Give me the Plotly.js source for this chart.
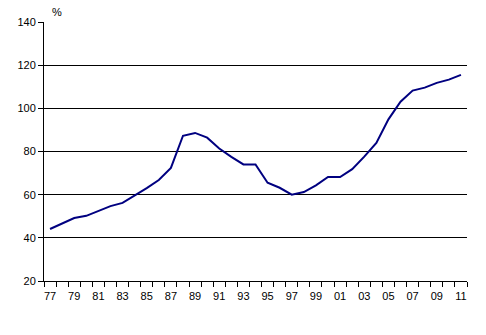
<!DOCTYPE html>
<html>
<head>
<meta charset="utf-8">
<script src="https://cdn.plot.ly/plotly-3.0.1.min.js"></script>
<style>html,body{margin:0;padding:0;background:#fff}#chart{width:486px;height:335px}</style>
</head>
<body>
<div id="chart"></div>
<script>
var years = [1977,1978,1979,1980,1981,1982,1983,1984,1985,1986,1987,1988,1989,1990,1991,1992,1993,1994,1995,1996,1997,1998,1999,2000,2001,2002,2003,2004,2005,2006,2007,2008,2009,2010,2011];
var values = [44.1,46.7,49.2,50.2,52.6,54.7,56.2,59.5,63.0,66.8,72.4,87.3,88.6,86.4,81.4,77.5,74.0,74.0,65.5,63.2,60.0,61.2,64.3,68.2,68.2,71.8,77.6,84.0,94.9,103.1,108.2,109.6,111.8,113.3,115.5];
var labelYears = [1977,1979,1981,1983,1985,1987,1989,1991,1993,1995,1997,1999,2001,2003,2005,2007,2009,2011];
var labelText = ["77","79","81","83","85","87","89","91","93","95","97","99","01","03","05","07","09","11"];
var boundaries = [];
for (var i = 0; i <= years.length; i++) boundaries.push(years[0] - 0.5 + i);
var yTicks = [20,40,60,80,100,120,140];
var unitLabel = "%";

var font = {family: "Liberation Sans, Arial, sans-serif", size: 11, color: "#000"};
var xr = [years[0] - 0.5, years[years.length-1] + 0.5];

var data = [{
  x: years, y: values, type: "scatter", mode: "lines",
  line: {color: "#000080", width: 2}, hoverinfo: "skip", showlegend: false
}];

var layout = {
  width: 486, height: 335,
  margin: {l: 44, r: 19, t: 22, b: 54},
  paper_bgcolor: "#fff", plot_bgcolor: "#fff",
  font: font,
  xaxis: {
    range: xr, tickmode: "array", tickvals: boundaries,
    ticktext: boundaries.map(function(){return "";}),
    ticks: "outside", ticklen: 5, tickwidth: 1, tickcolor: "#000",
    showline: true, linecolor: "#000", linewidth: 1,
    showgrid: false, zeroline: false, fixedrange: true
  },
  xaxis2: {
    overlaying: "x", anchor: "y", side: "bottom", range: xr,
    tickmode: "array", tickvals: labelYears, ticktext: labelText,
    ticks: "outside", ticklen: 5, tickcolor: "rgba(0,0,0,0)",
    showline: false, showgrid: false, zeroline: false, fixedrange: true,
    tickfont: font
  },
  yaxis: {
    range: [20, 140], tickmode: "array", tickvals: yTicks,
    ticks: "outside", ticklen: 5, tickwidth: 1, tickcolor: "#000",
    showline: true, linecolor: "#000", linewidth: 1,
    showgrid: true, gridcolor: "#000", gridwidth: 1,
    zeroline: false, fixedrange: true, tickfont: font
  },
  annotations: [{
    text: unitLabel, xref: "paper", yref: "paper", x: 0.015, y: 1,
    xanchor: "left", yanchor: "bottom", yshift: 2, showarrow: false, font: font
  }]
};

data.push({x: [xr[0]], y: [20], xaxis: "x2", yaxis: "y", mode: "markers",
  marker: {opacity: 0}, hoverinfo: "skip", showlegend: false});

Plotly.newPlot("chart", data, layout, {staticPlot: true, displayModeBar: false});
</script>
</body>
</html>
